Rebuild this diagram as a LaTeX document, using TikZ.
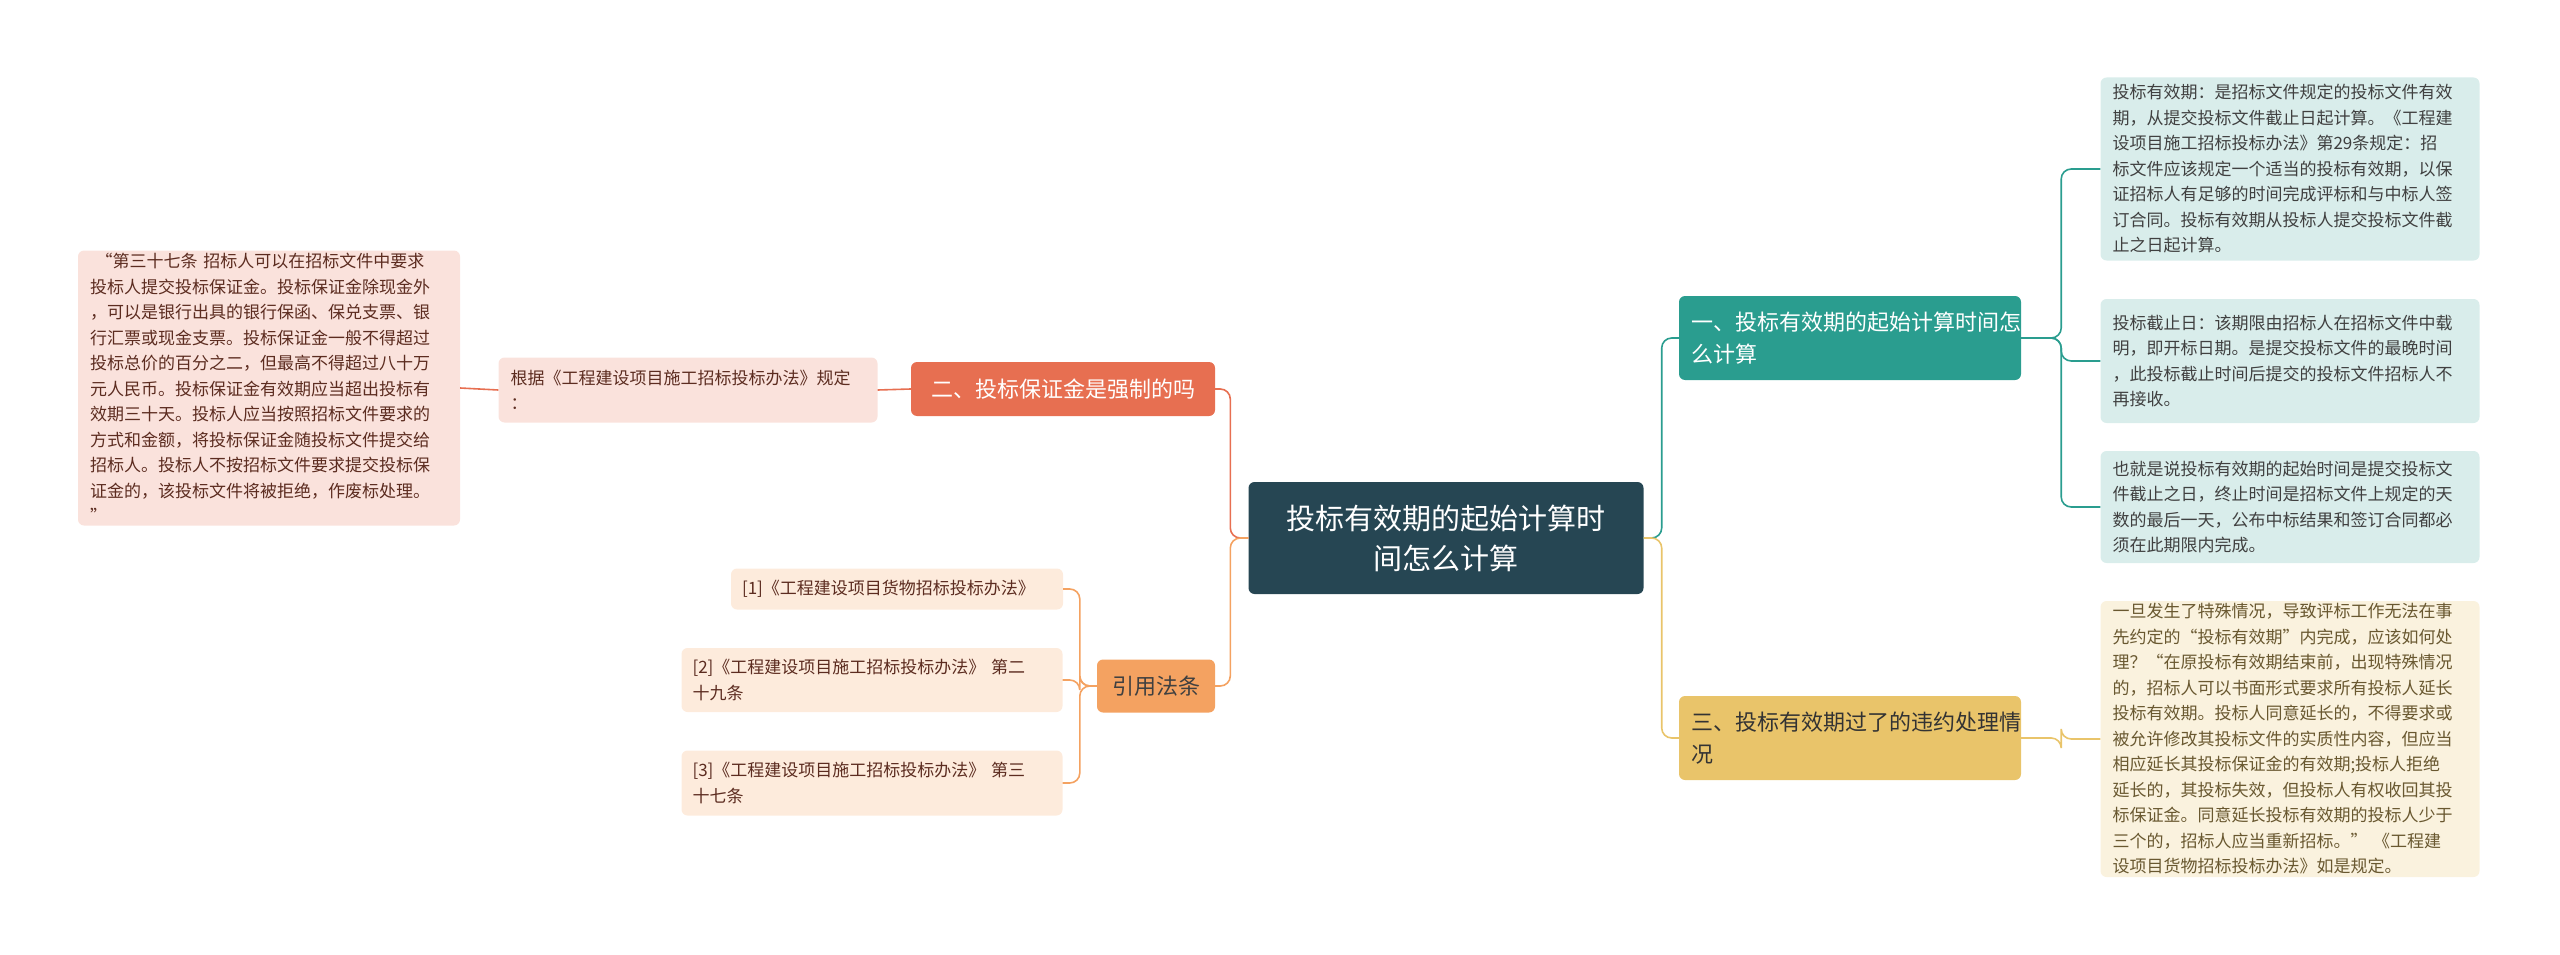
\documentclass[tikz,border=0pt]{standalone}
\usepackage{fontspec}
\setmainfont{Noto Sans CJK SC}
\usetikzlibrary{positioning}
\definecolor{rootc}{HTML}{264653}
\definecolor{tealc}{HTML}{2A9D8F}
\definecolor{redc}{HTML}{E76F51}
\definecolor{orangec}{HTML}{F4A261}
\definecolor{yellowc}{HTML}{E9C46A}
\tikzset{
  box/.style={rounded corners=6pt, inner sep=0pt, align=left},
  rootbox/.style={box, fill=rootc, text=white, align=center, font=\fontsize{29}{40}\selectfont},
  branchbox/.style={box, font=\fontsize{22}{32}\selectfont},
  leafbox/.style={box, font=\fontsize{17}{25.5}\selectfont},
  link/.style={line width=1.6pt, rounded corners=10pt}
}
\begin{document}
\begin{tikzpicture}[x=1pt,y=-1pt]
\useasboundingbox (0,0) rectangle (2560,955);
% root
\node[rootbox, minimum width=395, minimum height=112] (root) at (1446,538)
  {投标有效期的起始计算时\\间怎么计算};

% right branches
\node[branchbox, fill=tealc, text=white, minimum width=342, minimum height=84, text width=318] (b1) at (1850,338)
  {一、投标有效期的起始计算时间怎\\么计算};
\node[branchbox, fill=yellowc, text=black!80, minimum width=342, minimum height=84, text width=318] (b3) at (1850,738)
  {三、投标有效期过了的违约处理情\\况};

% left branches
\node[branchbox, fill=redc, text=white, minimum width=304, minimum height=54] (b2) at (1063,389)
  {二、投标保证金是强制的吗};
\node[branchbox, fill=orangec, text=black!75, minimum width=118, minimum height=53] (b4) at (1156,686)
  {引用法条};

% leaves of b1
\node[leafbox, fill=tealc!18, text=black!75, minimum width=379, minimum height=183, text width=355] (l1) at (2290,169)
  {投标有效期：是招标文件规定的投标文件有效\\期，从提交投标文件截止日起计算。《工程建\\设项目施工招标投标办法》第29条规定：招\\标文件应该规定一个适当的投标有效期，以保\\证招标人有足够的时间完成评标和与中标人签\\订合同。投标有效期从投标人提交投标文件截\\止之日起计算。};
\node[leafbox, fill=tealc!18, text=black!75, minimum width=379, minimum height=124, text width=355] (l2) at (2290,361)
  {投标截止日：该期限由招标人在招标文件中载\\明，即开标日期。是提交投标文件的最晚时间\\，此投标截止时间后提交的投标文件招标人不\\再接收。};
\node[leafbox, fill=tealc!18, text=black!75, minimum width=379, minimum height=112, text width=355] (l3) at (2290,507)
  {也就是说投标有效期的起始时间是提交投标文\\件截止之日，终止时间是招标文件上规定的天\\数的最后一天，公布中标结果和签订合同都必\\须在此期限内完成。};

% leaf of b3
\node[leafbox, fill=yellowc!22, text=yellowc!45!black, minimum width=379, minimum height=276, text width=355] (l4) at (2290,739)
  {一旦发生了特殊情况，导致评标工作无法在事\\先约定的“投标有效期”内完成，应该如何处\\理？“在原投标有效期结束前，出现特殊情况\\的，招标人可以书面形式要求所有投标人延长\\投标有效期。投标人同意延长的，不得要求或\\被允许修改其投标文件的实质性内容，但应当\\相应延长其投标保证金的有效期;投标人拒绝\\延长的，其投标失效，但投标人有权收回其投\\标保证金。同意延长投标有效期的投标人少于\\三个的，招标人应当重新招标。”\ 《工程建\\设项目货物招标投标办法》如是规定。};

% leaves of b2
\node[leafbox, fill=redc!20, text=redc!40!black, minimum width=379, minimum height=65, text width=355] (l5) at (688,390)
  {根据《工程建设项目施工招标投标办法》规定\\：};
\node[leafbox, fill=redc!20, text=redc!40!black, minimum width=382, minimum height=275, text width=358] (l6) at (269,388)
  {\ “第三十七条 招标人可以在招标文件中要求\\投标人提交投标保证金。投标保证金除现金外\\，可以是银行出具的银行保函、保兑支票、银\\行汇票或现金支票。投标保证金一般不得超过\\投标总价的百分之二，但最高不得超过八十万\\元人民币。投标保证金有效期应当超出投标有\\效期三十天。投标人应当按照招标文件要求的\\方式和金额，将投标保证金随投标文件提交给\\招标人。投标人不按招标文件要求提交投标保\\证金的，该投标文件将被拒绝，作废标处理。\\”};

% leaves of b4
\node[leafbox, fill=orangec!22, text=redc!40!black, minimum width=332, minimum height=41, text width=310] (r1) at (897,589)
  {[1]《工程建设项目货物招标投标办法》};
\node[leafbox, fill=orangec!22, text=redc!40!black, minimum width=381, minimum height=64, text width=359] (r2) at (872,680)
  {[2]《工程建设项目施工招标投标办法》 第二\\十九条};
\node[leafbox, fill=orangec!22, text=redc!40!black, minimum width=381, minimum height=65, text width=359] (r3) at (872,783)
  {[3]《工程建设项目施工招标投标办法》 第三\\十七条};

% connectors
\draw[link, tealc] (root.east) -- ++(18,0) |- (b1.west);
\draw[link, yellowc] (root.east) -- ++(18,0) |- (b3.west);
\draw[link, redc] (root.west) -- ++(-18,0) |- (b2.east);
\draw[link, orangec] (root.west) -- ++(-18,0) |- (b4.east);
\foreach \l in {l1,l2,l3}
  \draw[link, tealc] (b1.east) -- ++(40,0) |- (\l.west);
\draw[link, yellowc] (b3.east) -- ++(40,0) |- (l4.west);
\draw[link, redc] (b2.west) -- (l5.east);
\draw[link, redc] (l5.west) -- (l6.east);
\foreach \r in {r1,r2,r3}
  \draw[link, orangec] (b4.west) -- ++(-17,0) |- (\r.east);
\end{tikzpicture}
\end{document}
